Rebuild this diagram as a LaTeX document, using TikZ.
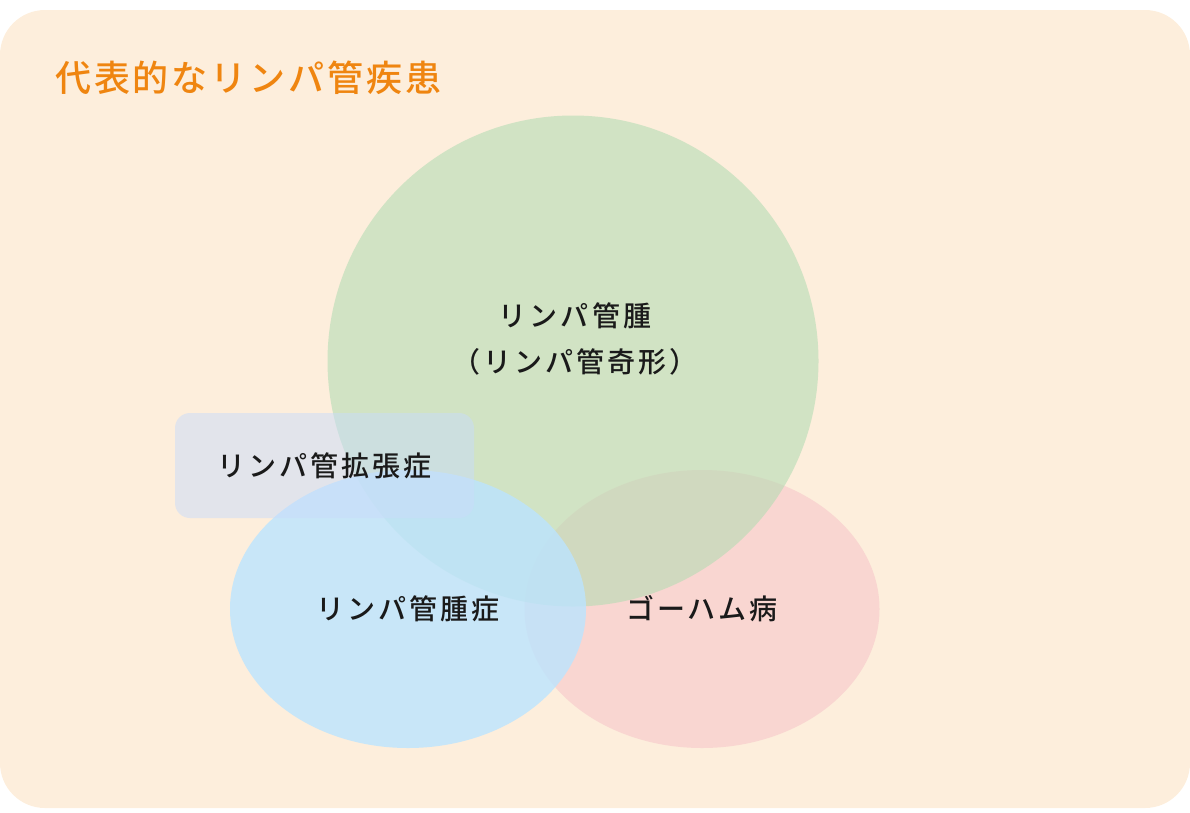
\documentclass[tikz,border=0pt]{standalone}
\usepackage{fontspec}
\newfontfamily\jpfont{Noto Sans CJK JP}[UprightFont=* Medium,LetterSpace=11]
\newfontfamily\jptitle{Noto Sans CJK JP}[UprightFont=* Medium,LetterSpace=8]
\usepackage{tikz}
\usetikzlibrary{shapes.geometric,positioning}
\definecolor{bgpeach}{HTML}{FDEEDC}
\definecolor{titleorange}{HTML}{EF8510}
\definecolor{circgreen}{HTML}{B5DCB4}
\definecolor{ellblue}{HTML}{BBE4FF}
\definecolor{ellpink}{HTML}{F9D6D1}
\definecolor{boxgray}{HTML}{C9DCFA}
\definecolor{labelink}{HTML}{1A1A1A}

\begin{document}
\begin{tikzpicture}[x=1pt,y=-1pt,
  blob/.style={inner sep=0pt,draw=none},
  lbl/.style={inner sep=0pt,text=labelink,font=\jpfont\fontsize{28}{46}\selectfont,align=center}]
  \useasboundingbox (0,0) rectangle (1190,812);
  \node[blob,fill=bgpeach,rounded corners=45pt,minimum width=1190pt,minimum height=798pt] (panel) at (595,409) {};
  \node[inner sep=0pt,anchor=west,text=titleorange,font=\jptitle\fontsize{36}{40}\selectfont] (title) at (55,78) {代表的なリンパ管疾患};

  \node[blob,fill=ellpink,ellipse,minimum width=355pt,minimum height=278pt] (gorham) at (702,609) {};
  \node[blob,fill=circgreen,fill opacity=0.6,circle,minimum size=491pt] (lymphangioma) at (573,361) {};
  \node[blob,fill=ellblue,fill opacity=0.8,ellipse,minimum width=356pt,minimum height=278pt] (lymphangiomatosis) at (408,609) {};
  \node[blob,fill=boxgray,fill opacity=0.5,rounded corners=15pt,minimum width=299pt,minimum height=105pt] (ectasia) at (324.5,465.5) {};

  \node[lbl] (t-lymphangioma) at (575,339) {リンパ管腫\\（リンパ管奇形）};
  \node[lbl] (t-ectasia) at (ectasia.center) {リンパ管拡張症};
  \node[lbl] (t-lymphangiomatosis) at (lymphangiomatosis.center) {リンパ管腫症};
  \node[lbl] (t-gorham) at (gorham.center) {ゴーハム病};
\end{tikzpicture}
\end{document}
